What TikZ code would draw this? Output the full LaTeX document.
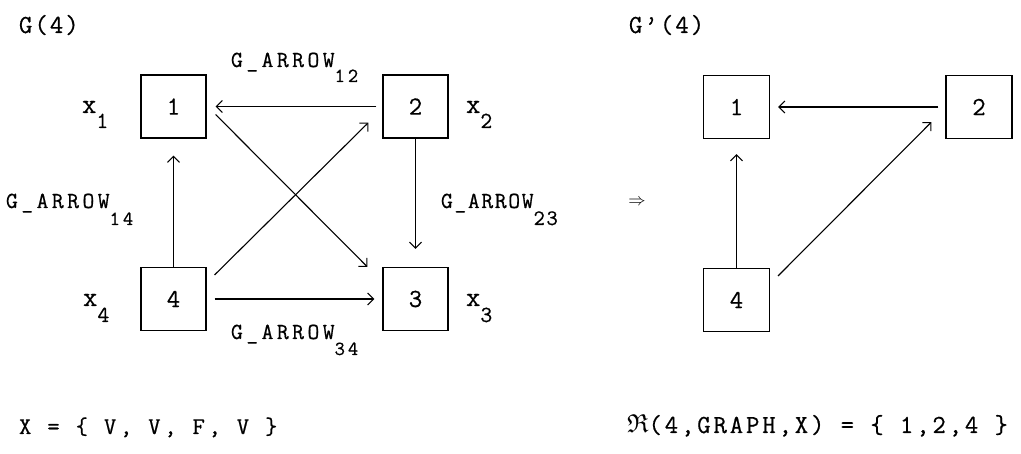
\documentclass[tikz,border=0pt]{standalone}
\usepackage{amssymb}
\usepackage{fontspec}
\setmainfont[FakeBold=0.6]{Latin Modern Mono}
\usetikzlibrary{arrows.meta,calc}
\newcommand\fsz[1]{\fontsize{#1}{#1}\selectfont}
\newcommand\ls[1]{\addfontfeature{LetterSpace=#1}}
\newcommand\sublab[4]{#1\raisebox{-#3pt}{\fsz{#4}#2}}
\begin{document}
\begin{tikzpicture}[x=1pt,y=-1pt,
  box/.style={draw,line width=1.2pt,minimum width=65pt,minimum height=63pt,inner sep=0pt,font=\fsz{26}},
  rbox/.style={box,minimum width=66pt},
  arr/.style={line width=1.1pt,-{Straight Barb[length=6pt,width=12pt,line width=1.1pt]}},
  lab/.style={anchor=base west,inner sep=0pt,outer sep=0pt},
  big/.style={lab,font=\fsz{26}\ls{8}},
  ga/.style={lab,font=\fsz{23}\ls{15}},
  xl/.style={lab,font=\fsz{28}}]
\useasboundingbox (0,0) rectangle (1021,454);
% left graph
\node[box] (b1) at (173.5,106.5) {1};
\node[box] (b2) at (415.5,106.5) {2};
\node[box] (b4) at (173.5,299) {4};
\node[box] (b3) at (415.5,299) {3};
\draw[arr,shorten <=6pt,shorten >=9pt] (b2.west) -- (b1.east);
\draw[arr,shorten >=17pt] (b4.north) -- (b1.south);
\draw[arr,shorten >=18pt] (b2.south) -- (b3.north);
\draw[arr,shorten <=8pt,shorten >=8pt] (b4.east) -- (b3.west);
\draw[arr] ($(b1.east)+(9,8)$) -- ($(b3.north west)+(-15,0)$);
\draw[arr] ($(b4.north east)+(8,8)$) -- ($(b2.south west)+(-14,-16)$);
\node[big] (t1) at (19,33) {G(4)};
\node[xl] (x1) at (82,113) {\sublab{x}{1}{15}{23}};
\node[xl] (x2) at (466,113) {\sublab{x}{2}{15}{23}};
\node[xl] (x4) at (83,306) {\sublab{x}{4}{16}{23}};
\node[xl] (x3) at (466,306) {\sublab{x}{3}{16}{23}};
\node[ga] (g12) at (231,67) {\sublab{G\_ARROW}{12}{15}{20}};
\node[ga] (g14) at (6,208) {\sublab{G\_ARROW}{14}{17}{20}};
\node[lab,font=\fsz{23}\ls{7}] (g23) at (441,208) {\sublab{G\_ARROW}{23}{17}{22}};
\node[ga] (g34) at (231,339) {\sublab{G\_ARROW}{34}{16}{20}};
\node[lab,font=\fsz{24}\ls{15}] (xv) at (19,434) {X = \{ V, V, F, V \}};
% implication
\node[inner sep=0pt,font=\fsz{17}] (imp) at (637,202.5) {$\Rightarrow$};
% right graph
\node[big] (t2) at (629,33) {G'(4)};
\node[rbox] (c1) at (736.5,107) {1};
\node[rbox] (c2) at (979,107) {2};
\node[rbox] (c4) at (736.5,300) {4};
\draw[arr,shorten <=7pt,shorten >=8pt] (c2.west) -- (c1.east);
\draw[arr,shorten >=15pt] (c4.north) -- (c1.south);
\draw[arr] ($(c4.north east)+(8,8)$) -- ($(c2.south west)+(-14,-17)$);
\node[lab,font=\fsz{26}\ls{11}] (res) at (627,433) {$\mathfrak{R}$(4,GRAPH,X) = \{ 1,2,4 \}};
\end{tikzpicture}
\end{document}
